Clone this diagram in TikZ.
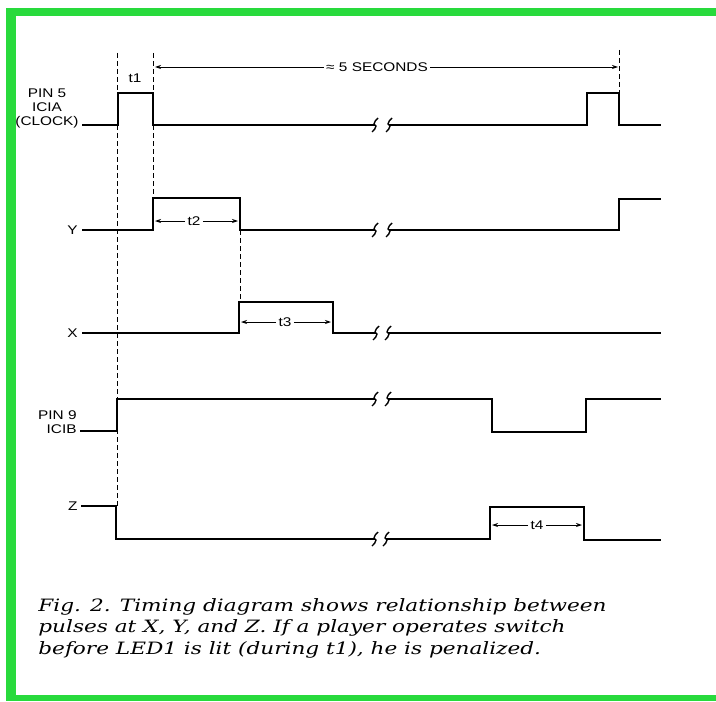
\documentclass[tikz,border=0pt]{standalone}
\usepackage{fontspec}
\newfontfamily\lblfont[FakeStretch=1.22]{Liberation Sans}
\newfontfamily\capfont[FakeStretch=1.27]{DejaVu Serif}
\usetikzlibrary{arrows.meta}
\definecolor{framegreen}{RGB}{40,218,60}

\begin{document}
\begin{tikzpicture}[x=0.5pt, y=-0.5pt,
  sig/.style = {line width=1.3pt, line join=miter},
  guide/.style = {thin, dash pattern=on 2.5pt off 1.5pt},
  dim/.style = {thin, -{Stealth[length=3pt, width=2pt]}},
  lbl/.style = {font=\lblfont\fontsize{6.3}{7}\selectfont, inner sep=1pt},
  brk/.pic = {\draw[line width=0.7pt] (-3,7) .. controls (0,4) .. (1,1) -- (-1,-1) .. controls (0,-4) .. (3,-7);}]
\useasboundingbox (0,0) rectangle (716,701);
% green frame
\fill[framegreen] (6,8) rectangle (716,16);
\fill[framegreen] (6,8) rectangle (16,701);
\fill[framegreen] (6,695) rectangle (716,701);

% signal labels
\node[lbl, align=center, anchor=east] (clk) at (81,108) {PIN 5\\ICIA\\(CLOCK)};
\node[lbl, anchor=east] (ylab) at (80,230) {Y};
\node[lbl, anchor=east] (xlab) at (80,333) {X};
\node[lbl, align=right, anchor=east] (pin) at (79,422) {PIN 9\\ICIB};
\node[lbl, anchor=east] (zlab) at (80,506) {Z};

% clock
\draw[sig] (82,125) -- (118,125) -- (118,93) -- (153,93) -- (153,125) -- (375,125);
\draw[sig] (389,125) -- (587,125) -- (587,93) -- (619,93) -- (619,125) -- (661,125);
% Y
\draw[sig] (82,230) -- (153,230) -- (153,198) -- (240,198) -- (240,230) -- (375,230);
\draw[sig] (389,230) -- (619,230) -- (619,199) -- (661,199);
% X
\draw[sig] (82,333) -- (239,333) -- (239,302) -- (333,302) -- (333,333) -- (376,333);
\draw[sig] (388,333) -- (661,333);
% pin 9
\draw[sig] (80,431) -- (117,431) -- (117,399) -- (375,399);
\draw[sig] (388,399) -- (492,399) -- (492,432) -- (586,432) -- (586,399) -- (661,399);
% Z
\draw[sig] (81,506) -- (116,506) -- (116,539) -- (375,539);
\draw[sig] (386,539) -- (490,539) -- (490,507) -- (584,507) -- (584,540) -- (661,540);

% breaks
\pic at (375,125) {brk}; \pic at (389,125) {brk};
\pic at (375,230) {brk}; \pic at (389,230) {brk};
\pic at (376,333) {brk}; \pic at (388,333) {brk};
\pic at (375,399) {brk}; \pic at (388,399) {brk};
\pic at (375,539) {brk}; \pic at (386,539) {brk};

% dashed guides
\draw[guide] (117.5,53) -- (117.5,506);
\draw[guide] (153,53) -- (153,198);
\draw[guide] (240,230) -- (240,302);
\draw[guide] (619,50) -- (619,93);

% timing labels
\node[lbl] (t1) at (135,78) {t1};
\node[lbl] (five) at (377,67) {≈ 5 SECONDS};
\draw[dim] (five.west) -- (155,67);
\draw[dim] (five.east) -- (618,67);
\node[lbl] (t2) at (194,221) {t2};
\draw[dim] (t2.west) -- (155,221);
\draw[dim] (t2.east) -- (238,221);
\node[lbl] (t3) at (285,322) {t3};
\draw[dim] (t3.west) -- (241,322);
\draw[dim] (t3.east) -- (331,322);
\node[lbl] (t4) at (537,525) {t4};
\draw[dim] (t4.west) -- (492,525);
\draw[dim] (t4.east) -- (582,525);

% caption
\node[anchor=base west, align=left, inner sep=0pt,
  font=\capfont\itshape\fontsize{8.5}{10.75}\selectfont] (caption) at (38,654)
  {Fig. 2. Timing diagram shows relationship between\\
   pulses at X, Y, and Z. If a player operates switch\\
   before LED1 is lit (during t1), he is penalized.};
\end{tikzpicture}
\end{document}
